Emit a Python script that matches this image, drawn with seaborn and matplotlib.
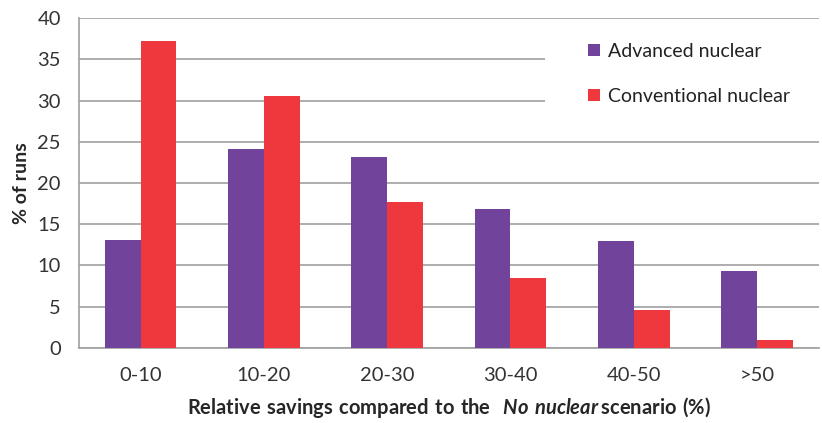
import numpy as np
import pandas as pd
import seaborn as sns
import matplotlib.pyplot as plt
from matplotlib.patches import Rectangle

categories = ['0-10', '10-20', '20-30', '30-40', '40-50', '>50']
advanced = [13.1, 24.1, 23.1, 16.8, 13.0, 9.3]
conventional = [37.2, 30.5, 17.7, 8.5, 4.6, 0.9]
series = ['Advanced nuclear', 'Conventional nuclear']
colors = ['#71439B', '#EE383D']

df = pd.DataFrame({
    'range': categories * 2,
    'pct': advanced + conventional,
    'type': [series[0]] * len(categories) + [series[1]] * len(categories),
})

sns.set_style('white')
plt.rcParams['font.family'] = ['Lato', 'DejaVu Sans']
plt.rcParams['mathtext.fontset'] = 'custom'
plt.rcParams['mathtext.bf'] = 'Lato:bold'
plt.rcParams['mathtext.bfit'] = 'Lato:italic:bold'
plt.rcParams['mathtext.rm'] = 'Lato'

fig = plt.figure(figsize=(8.22, 4.23), dpi=100)
ax = fig.add_axes([0.096, 0.178, 0.9, 0.779])

sns.barplot(data=df, x='range', y='pct', hue='type', palette=colors,
            width=0.58, saturation=1, linewidth=0, ax=ax, zorder=3)

ax.set_ylim(0, 40)
ax.set_yticks(np.arange(0, 41, 5))
ax.yaxis.grid(True, color='#A0A0A0', linewidth=1.2, zorder=0)
ax.set_axisbelow(True)
for s in ['top', 'right']:
    ax.spines[s].set_visible(False)
for s in ['left', 'bottom']:
    ax.spines[s].set_color('#A0A0A0')
    ax.spines[s].set_linewidth(1.2)
ax.tick_params(axis='both', labelsize=14.5, colors='#333333', length=0)
ax.tick_params(axis='x', pad=14)
ax.tick_params(axis='y', pad=13)

ax.set_ylabel('% of runs', fontsize=14, fontweight='bold', labelpad=5)
ax.set_xlabel(r'$\mathbf{Relative\ savings\ compared\ to\ the}\ \ \mathbfit{No\ nuclear}\,\mathbf{scenario\ (\%)}$',
              fontsize=14.5, labelpad=8)

# white area behind the legend, hiding the gridlines there
ax.add_patch(Rectangle((0.63, 0.71), 0.37, 0.255, transform=ax.transAxes,
                       facecolor='white', edgecolor='none', zorder=1))

leg = ax.legend(loc='upper left', bbox_to_anchor=(0.688, 0.925), frameon=False,
                fontsize=14, handlelength=0.6, handleheight=0.6,
                labelspacing=1.45, borderpad=0, borderaxespad=0,
                handletextpad=0.45)
for t in leg.get_texts():
    t.set_color('#222222')

fig.savefig('out.png', dpi=100)
